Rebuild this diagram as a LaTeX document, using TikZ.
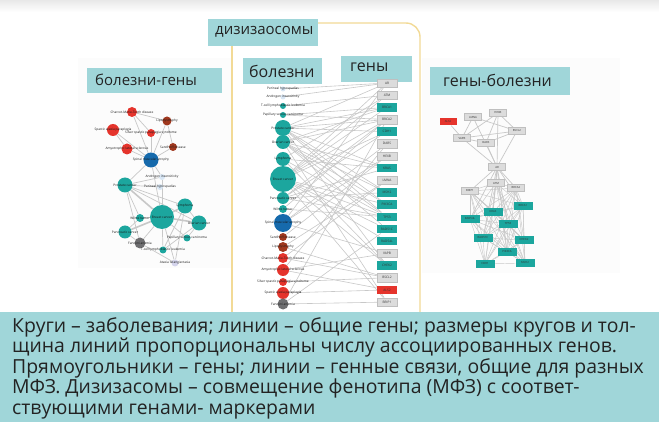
\documentclass[tikz,border=0pt]{standalone}
\usepackage{fontspec}
\setmainfont{Open Sans}
\pgfdeclarelayer{bg}
\pgfdeclarelayer{edges}
\pgfsetlayers{bg,edges,main}
\definecolor{capteal}{RGB}{160,214,217}
\definecolor{nteal}{RGB}{28,166,158}
\definecolor{nblue}{RGB}{22,106,172}
\definecolor{nred}{RGB}{229,52,44}
\definecolor{nbrown}{RGB}{160,56,30}
\definecolor{ngray}{RGB}{110,110,112}
\definecolor{npale}{RGB}{216,230,244}
\definecolor{nlav}{RGB}{212,212,236}
\definecolor{edgegray}{RGB}{200,200,200}
\definecolor{genegray}{RGB}{220,220,220}
\definecolor{frameyel}{RGB}{242,218,150}
\definecolor{txt}{RGB}{35,35,35}
\tikzset{
  dis/.style 2 args={circle, fill=#1, minimum size=#2, inner sep=0pt},
  tl/.style={font=\fontsize{3.2}{3.2}\selectfont, text=black!90, inner sep=0pt},
  gene/.style={rectangle, minimum width=20pt, minimum height=8.5pt, inner sep=0pt, font=\fontsize{3.2}{3.2}\selectfont, text=black!80},
  ggray/.style={gene, fill=genegray, draw=black!25, line width=0.3pt},
  gteal/.style={gene, fill=nteal},
  gred/.style={gene, fill=nred},
  rgene/.style={rectangle, minimum width=17pt, minimum height=7pt, inner sep=0pt, font=\fontsize{2.8}{2.8}\selectfont, text=black!80},
  rgray/.style={rgene, fill=genegray, draw=black!25, line width=0.3pt},
  rteal/.style={rgene, fill=nteal, minimum width=19pt, minimum height=8pt},
  rred/.style={rgene, fill=nred},
  edge/.style={draw=edgegray, line width=0.7pt},
  thick edge/.style={draw=edgegray, line width=1.6pt},
  hdrbox/.style={fill=capteal, inner sep=0pt},
  hdrtxt/.style={text=txt, inner sep=0pt, anchor=west},
  captxt/.style={text=txt, inner sep=0pt, anchor=base west, font=\fontsize{19.4}{20}\selectfont},
}
\begin{document}
\begin{tikzpicture}[x=1pt,y=-1pt]
\useasboundingbox (0,0) rectangle (659,422);
\begin{pgfonlayer}{bg}
\fill[white] (0,0) rectangle (659,422);
\shade[top color=black!9, bottom color=white] (0,0) rectangle (659,12);
\fill[black!1] (78,58) rectangle (232,268);
\fill[black!1] (422,58) rectangle (620,273);
\end{pgfonlayer}

% frame of the disease-some column
\draw[frameyel, line width=1.4pt] (232,46) -- (232,312);
\draw[frameyel, line width=1.4pt, rounded corners=14pt] (318,23) -- (420,23) -- (420,312);

% header boxes
\node[hdrbox, minimum width=110, minimum height=27] (diz) at (263,32.5) {};
\node[hdrtxt, font=\fontsize{15}{15}\selectfont] (diztxt) at (215,32) {дизизаосомы};
\node[hdrbox, minimum width=135, minimum height=25] (bg) at (154.5,80.5) {};
\node[hdrtxt, font=\fontsize{15}{15}\selectfont] (bgtxt) at (95,80) {болезни-гены};
\node[hdrbox, minimum width=79, minimum height=26] (bol) at (282.5,71) {};
\node[hdrtxt, font=\fontsize{16}{16}\selectfont] (boltxt) at (249,71) {болезни};
\node[hdrbox, minimum width=71, minimum height=26] (gen) at (376.5,69) {};
\node[hdrtxt, font=\fontsize{16}{16}\selectfont] (gentxt) at (350,67) {гены};
\node[hdrbox, minimum width=140, minimum height=28] (gb) at (500,81) {};
\node[hdrtxt, font=\fontsize{16}{16}\selectfont] (gbtxt) at (443,80) {гены-болезни};

% ---------- left network: diseases and genes ----------
\node[dis={nred}{10}, label={[tl]center:Charcot-Marie-Tooth disease}] (lCMT) at (132,112) {};
\node[dis={nbrown}{9}, label={[tl]center:Lipodystrophy}] (lLip) at (167,121) {};
\node[dis={nred}{12}, label={[tl]center:Spastic ataxia paraplegia}] (lSAP) at (113,130) {};
\node[dis={nred}{8}, label={[tl]center:Silver spastic paraplegia syndrome}] (lSSP) at (151,133) {};
\node[dis={nbrown}{8}, label={[tl]center:Sandhoff disease}] (lSan) at (173,147) {};
\node[dis={nred}{11}, label={[tl]center:Amyotrophic lateral sclerosis}] (lALS) at (127,149) {};
\node[dis={nblue}{15}, label={[tl]center:Spinal muscular atrophy}] (lSMA) at (151,160) {};
\node[dis={npale}{6}, label={[tl]center:Androgen insensitivity}] (lAI) at (162,177) {};
\node[dis={nteal}{15}, label={[tl]center:Prostate cancer}] (lPro) at (125,185) {};
\node[dis={npale}{6}, label={[tl]center:Perineal hypospadias}] (lPH) at (160,187) {};
\node[dis={nteal}{15}, label={[tl]center:Lymphoma}] (lLym) at (185,206) {};
\node[dis={nteal}{24}, label={[tl]center:Breast cancer}] (lBre) at (162,217) {};
\node[dis={nteal}{8}, label={[tl]center:Wilms tumor}] (lWil) at (140,218) {};
\node[dis={nteal}{15}, label={[tl]center:Ovarian cancer}] (lOva) at (199,223) {};
\node[dis={nteal}{13}, label={[tl]center:Pancreatic cancer}] (lPan) at (125,232) {};
\node[dis={nteal}{7}, label={[tl]center:Papillary serous carcinoma}] (lPap) at (187,238) {};
\node[dis={ngray}{11}, label={[tl]center:Fanconi anemia}] (lFan) at (140,243) {};
\node[dis={nteal}{7}, label={[tl]center:T-cell lymphoblastic leukemia}] (lTce) at (163,250) {};
\node[dis={nlav}{7}, label={[tl]center:Ataxia telangiectasia}] (lAT) at (175,263) {};
\begin{pgfonlayer}{edges}
\foreach \a/\b in {CMT/Lip, CMT/SMA, CMT/SSP, SAP/ALS, SAP/SMA, ALS/SMA, SSP/SMA, San/SMA, Lip/SMA, Lip/San,
  SMA/Pro, SMA/Bre, SMA/AI, Pro/AI, Pro/PH, AI/Bre, Pro/Lym, Pro/Fan, Pro/Wil, Pro/Ova,
  Bre/Fan, Bre/Wil, Bre/Pap, Bre/Tce, Bre/AT, Lym/Ova, Lym/Tce, Pan/Fan, Ova/Pap, Fan/AT, Lym/AT, Pan/Wil, Ova/Tce}
  \draw[edge] (l\a) -- (l\b);
\foreach \a/\b in {Bre/Pro, Bre/Lym, Bre/Ova, Bre/Pan}
  \draw[thick edge] (l\a) -- (l\b);
\end{pgfonlayer}

% ---------- middle column: diseasome ----------
\foreach \yy/\cc/\ss/\tt [count=\i] in {
  89/npale/5/Perineal hypospadias,
  97/npale/5/Androgen insensitivity,
  106/nteal/6/T-cell lymphoblastic leukemia,
  115/nteal/6/Papillary serous carcinoma,
  128/nteal/16/Prostate cancer,
  142/nteal/14/Ovarian cancer,
  159/nteal/14/Lymphoma,
  179/nteal/26/Breast cancer,
  198/nteal/12/Pancreatic cancer,
  209/nteal/8/Wilms tumor,
  223/nblue/18/Spinal muscular atrophy,
  237/nbrown/8/Sandhoff disease,
  247/nbrown/10/Lipodystrophy,
  258/nred/10/Charcot-Marie-Tooth disease,
  270/nred/12/Amyotrophic lateral sclerosis,
  282/nred/8/Silver spastic paraplegia syndrome,
  293/nred/12/Spastic ataxia paraplegia,
  304/ngray/11/Fanconi anemia}
  \node[dis={\cc}{\ss}, label={[tl]center:\tt}] (m\i) at (283,\yy) {};

\foreach \tt/\st [count=\i] in {AR/ggray, ATM/ggray, BRCA1/gteal, BRCA2/ggray, CDH1/gteal, DARS/ggray,
  HEXB/ggray, KRAS/gteal, LMNA/ggray, MSH2/gteal, PIK3CA/gteal, TP53/gteal, RAD51C/gteal,
  RAD54L/gteal, VAPB/ggray, CHEK2/gteal, BSCL2/ggray, ALS2/gred, BRIP1/ggray}
  \node[\st] (g\i) at (387,{83+12.17*(\i-1)}) {\tt};

\begin{pgfonlayer}{edges}
\foreach \a/\b in {1/1, 2/1, 3/2, 4/3, 4/4,
  5/1, 5/3, 5/4, 5/5, 5/8, 5/10, 5/11, 5/12, 5/16,
  6/3, 6/4, 6/8, 6/10, 6/11, 6/12, 6/13, 6/19,
  7/2, 7/8, 7/12, 7/16,
  8/1, 8/2, 8/3, 8/4, 8/5, 8/11, 8/12, 8/13, 8/14, 8/16, 8/19,
  9/4, 9/5, 9/8, 9/10, 9/12,
  10/4, 10/12,
  11/1, 11/6, 11/7, 11/15,
  12/7, 13/9, 13/17, 14/9, 14/17, 15/6, 15/15, 15/18, 16/17, 17/18,
  18/4, 18/13, 18/19}
  \draw[edge, line width=0.6pt] (m\a) -- (g\b);
\end{pgfonlayer}

% ---------- right network: genes ----------
\node[rred]  (r1)  at (448,122) {ALS2};
\node[rgray] (r2)  at (473,117) {LMNA};
\node[rgray] (r3)  at (498,113) {HEXB};
\node[rgray] (r4)  at (517,131) {BSCL2};
\node[rgray] (r5)  at (462,138) {VAPB};
\node[rgray] (r6)  at (486,143) {DARS};
\node[rgray] (r7)  at (497,167) {AR};
\node[rgray] (r8)  at (496,183) {ATM};
\node[rgray] (r9)  at (470,191) {BRIP1};
\node[rgray] (r10) at (516,188) {BRCA2};
\node[rteal] (r11) at (523,206) {BRCA1};
\node[rteal] (r12) at (493,212) {KRAS};
\node[rteal] (r13) at (470,219) {RAD54L};
\node[rteal] (r14) at (508,224) {TP53};
\node[rteal] (r15) at (483,238) {RAD51C};
\node[rteal] (r16) at (524,240) {CHEK2};
\node[rteal] (r17) at (507,252) {PIK3CA};
\node[rteal] (r18) at (485,264) {CDH1};
\node[rteal] (r19) at (525,263) {MSH2};
\begin{pgfonlayer}{edges}
\foreach \a/\b in {1/5, 2/5, 2/7, 2/4, 3/5, 3/6, 3/4, 3/7, 4/5, 4/6, 4/7, 5/6, 5/7, 6/7,
  7/8, 7/9, 7/10, 7/11, 7/12, 7/13, 7/14, 7/15, 7/17}
  \draw[edge] (r\a) -- (r\b);
\foreach \i in {8,...,19}
  \foreach \j in {8,...,19}
    {\ifnum\i<\j \draw[draw=edgegray, line width=0.45pt] (r\i) -- (r\j);\fi}
\end{pgfonlayer}

% ---------- caption ----------
\node[fill=capteal, minimum width=659, minimum height=110, inner sep=0pt, anchor=north west] (cap) at (0,312) {};
\node[captxt] (c1) at (12,332) {Круги – заболевания; линии – общие гены; размеры кругов и тол-};
\node[captxt] (c2) at (12,352.5) {щина линий пропорциональны числу ассоциированных генов.};
\node[captxt] (c3) at (12,373) {Прямоугольники – гены; линии – генные связи, общие для разных};
\node[captxt] (c4) at (12,393.5) {МФЗ. Дизизасомы – совмещение фенотипа (МФЗ) с соответ-};
\node[captxt] (c5) at (12,414) {ствующими генами- маркерами};
\end{tikzpicture}
\end{document}
